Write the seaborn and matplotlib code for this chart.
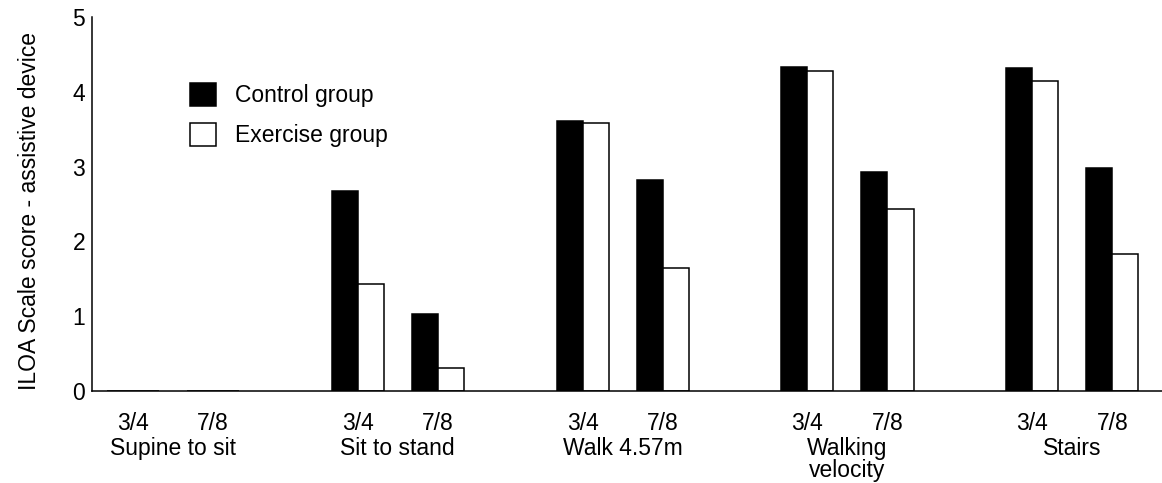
import matplotlib
matplotlib.use("Agg")
from matplotlib import pyplot as plt
from matplotlib.patches import Patch
import seaborn as sns
import pandas as pd

# data
tasks = ["Supine to sit", "Sit to stand", "Walk 4.57m", "Walking\nvelocity", "Stairs"]
times = ["3/4", "7/8"]
groups = ["Control group", "Exercise group"]
control = [0, 0, 2.67, 1.03, 3.61, 2.82, 4.33, 2.93, 4.32, 2.98]
exercise = [0, 0, 1.43, 0.31, 3.58, 1.65, 4.28, 2.43, 4.15, 1.83]

# layout: each task takes two slots (3/4, 7/8), tasks spaced apart
task_step = 2.81
rows = []
for k in range(len(control)):
    i, j = divmod(k, 2)
    pos = i * task_step + j
    rows.append({"pos": pos, "group": groups[0], "score": control[k]})
    rows.append({"pos": pos, "group": groups[1], "score": exercise[k]})
df = pd.DataFrame(rows)

sns.set_style("white")
plt.rcParams['font.family'] = ['Liberation Sans', 'DejaVu Sans']
plt.rcParams['text.color'] = 'black'
fs = 16.5

fig = plt.figure(figsize=(11.62, 4.83), dpi=100)
ax = fig.add_axes([92 / 1162, 1 - 391 / 483, 1 - 92 / 1162, (391 - 17) / 483])

sns.barplot(data=df, x="pos", y="score", hue="group", native_scale=True,
            palette=["black", "white"], saturation=1, edgecolor="black",
            linewidth=1.1, width=0.65, errorbar=None, legend=False, ax=ax)

ax.set_xlim(-0.51, 12.86)
ax.set_ylim(0, 5)
ax.set_yticks(range(6))

tick_pos = sorted(df["pos"].unique())
ax.set_xticks(tick_pos)
ax.set_xticklabels(times * len(tasks))
ax.tick_params(axis='x', length=0, pad=15, labelsize=fs, colors='black')
ax.tick_params(axis='y', direction='in', length=6, width=1.1, pad=5,
               labelsize=fs, colors='black')
ax.set_xlabel("")
ax.set_ylabel("ILOA Scale score - assistive device", fontsize=fs, color='black')
ax.yaxis.set_label_coords(-0.048, 0.48)

# task names under each pair of tick labels
for i, t in enumerate(tasks):
    ax.annotate(t, xy=(i * task_step + 0.5, 0), xycoords=('data', 'axes fraction'),
                xytext=(0, -33), textcoords='offset points',
                ha='center', va='top', fontsize=fs, linespacing=0.98)

sns.despine(ax=ax)
for s in ['left', 'bottom']:
    ax.spines[s].set_color('black')
    ax.spines[s].set_linewidth(1.1)

handles = [Patch(facecolor='black', edgecolor='black', linewidth=1.1),
           Patch(facecolor='white', edgecolor='black', linewidth=1.1)]
ax.legend(handles, groups, loc='upper left',
          bbox_to_anchor=(190 / 1162, 1 - 83 / 483), bbox_transform=fig.transFigure,
          frameon=False, borderpad=0, borderaxespad=0, handlelength=1.15,
          handleheight=1.15, handletextpad=0.8, labelspacing=0.7, fontsize=fs)

fig.savefig("out.png", dpi=100)
